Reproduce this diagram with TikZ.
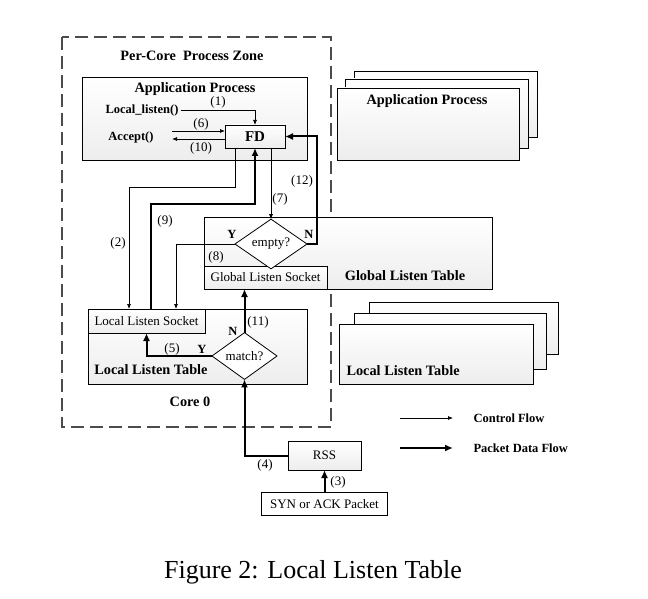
\documentclass[tikz,border=0pt]{standalone}
\usepackage{fontspec}
\setmainfont{Liberation Serif}
\usepackage{tikz}
\usetikzlibrary{calc}
\usetikzlibrary{arrows.meta}
\usetikzlibrary{shapes}
\usetikzlibrary{shapes.geometric}
\usetikzlibrary{positioning}
\tikzset{>=latex}
\tikzstyle{box} = [draw, rectangle, inner sep=0pt, outer sep=0pt, line width=0.8pt, top color=white, bottom color=gray!14, anchor=north west]
\tikzstyle{dec} = [draw, diamond, inner sep=0pt, outer sep=0pt, line width=0.8pt, fill=white, font=\fontsize{13}{15}\selectfont]
\tikzstyle{ctrl} = [line width=0.7pt, -{Latex[length=5pt, width=4pt]}]
\tikzstyle{data} = [line width=2pt, -{Latex[length=8pt, width=7pt]}]
\tikzstyle{ttl} = [font=\fontsize{14.3}{16}\selectfont\bfseries]
\tikzstyle{lbl} = [font=\fontsize{12.5}{14}\selectfont\bfseries]
\tikzstyle{num} = [font=\fontsize{13}{15}\selectfont]

\begin{document}
\begin{tikzpicture}[x=1pt, y=-1pt]
\useasboundingbox (0,0) rectangle (648,599);
% per-core zone
\draw [draw=gray!60!black, line width=2pt, dash pattern=on 13pt off 6pt] (62,37) rectangle (331,427);
\node [ttl] (zone) at (192,56) {Per-Core \ Process Zone};

% application process
\node [box, minimum width=225pt, minimum height=83pt] (app) at (82,77) {};
\node [ttl] (appt) at (195,89) {Application Process};
\node [box, minimum width=60pt, minimum height=23pt] (FD) at (225,125) {};
\node [font=\fontsize{15}{17}\selectfont\bfseries] (fdt) at (FD.center) {FD};
\node [lbl, inner sep=2pt] (ll) at (142,110) {Local\_listen()};
\node [lbl] (acc) at (131,137) {Accept()};
\coordinate (a6) at (172,131);
\coordinate (a10) at (172,139);

% other application processes
\node [box, minimum width=183pt, minimum height=66pt] (ap3) at (354,71) {};
\node [box, minimum width=183pt, minimum height=69pt] (ap2) at (345,79) {};
\node [box, minimum width=182pt, minimum height=72pt] (ap1) at (337,88) {};
\node [ttl] (ap1t) at (427,101) {Application Process};

% global listen table
\node [box, minimum width=288pt, minimum height=72pt] (glt) at (204,217) {};
\node [box, minimum width=123pt, minimum height=23pt] (gls) at (204,266) {};
\node [num] (glst) at (gls.center) {Global Listen Socket};
\node [ttl] (gltt) at (405,276) {Global Listen Table};
\node [dec, minimum width=72pt, minimum height=30pt] (empty) at (271,244) {empty?};

% local listen table
\node [box, minimum width=219pt, minimum height=75pt] (llt) at (88,309) {};
\node [box, minimum width=117pt, minimum height=24pt] (lls) at (88,309) {};
\node [num] (llst) at (lls.center) {Local Listen Socket};
\node [ttl] (lltt) at (151,370) {Local Listen Table};
\node [dec, minimum width=65pt, minimum height=34pt] (match) at (244.5,356) {match?};
\node [ttl] (core) at (190,402) {Core 0};

% other local listen tables
\node [box, minimum width=189pt, minimum height=52pt] (lt3) at (369,302) {};
\node [box, minimum width=192pt, minimum height=56pt] (lt2) at (354,313) {};
\node [box, minimum width=194pt, minimum height=60pt] (lt1) at (339,324) {};
\node [ttl, anchor=west] (lt1t) at (343,371) {Local Listen Table};

% rss and packet
\node [box, minimum width=73pt, minimum height=29pt] (rss) at (288,441) {};
\node [num] (rsst) at (rss.center) {RSS};
\node [draw, rectangle, line width=0.8pt, inner sep=0pt, minimum width=126pt, minimum height=23pt, anchor=north west, fill=white] (syn) at (261,492) {};
\node [num] (synt) at (syn.center) {SYN or ACK Packet};

% control flow
\draw [ctrl] (ll.east) -| (FD.north);
\draw [ctrl] (a6) -- (a6 -| FD.west);
\draw [ctrl] (a10 -| FD.west) -- (a10);
\draw [ctrl] ([xshift=-20pt]FD.south) -- ++(0,39) -| ([xshift=-17.5pt]lls.north);
\draw [ctrl] (FD.south -| empty.north) -- (empty.north);
\draw [ctrl] (empty.west) -| ([xshift=29.5pt]lls.north);

% packet data flow
\draw [data] ([xshift=4pt]lls.north) -- ++(0,-105) -| (FD.south);
\draw [data] (empty.east) -- ++(10,0) |- (FD.east);
\draw [data] (match.west) -| (lls.south);
\draw [data] (match.north) -- (match.north |- gls.south);
\draw [data] (rss.west) -| (match.south);
\draw [data] (syn.north -| rss.south) -- (rss.south);

% labels
\node [num] (n1) at (218,102) {(1)};
\node [num] (n6) at (201,124) {(6)};
\node [num] (n10) at (201,148) {(10)};
\node [num] (n2) at (118,243) {(2)};
\node [num] (n9) at (165,221) {(9)};
\node [num] (n7) at (280,199) {(7)};
\node [num] (n12) at (302,181) {(12)};
\node [num] (n8) at (216,257) {(8)};
\node [lbl] (ey) at (232,234) {Y};
\node [lbl] (en) at (309,234) {N};
\node [lbl] (mn) at (233,331) {N};
\node [num] (n11) at (258,322) {(11)};
\node [lbl] (my) at (202,349) {Y};
\node [num] (n5) at (172,349) {(5)};
\node [num] (n4) at (265,465) {(4)};
\node [num] (n3) at (338,482) {(3)};

% legend
\coordinate (c1) at (400,418);
\coordinate (c2) at (453,418);
\coordinate (d1) at (400,448);
\coordinate (d2) at (453,448);
\draw [ctrl] (c1) -- (c2);
\draw [data] (d1) -- (d2);
\node [lbl, anchor=west] (cf) at (470,418) {Control Flow};
\node [lbl, anchor=west] (pdf) at (470,448) {Packet Data Flow};

% caption
\node [font=\fontsize{26}{30}\selectfont] (cap) at (313,572) {Figure 2: Local Listen Table};
\end{tikzpicture}
\end{document}
